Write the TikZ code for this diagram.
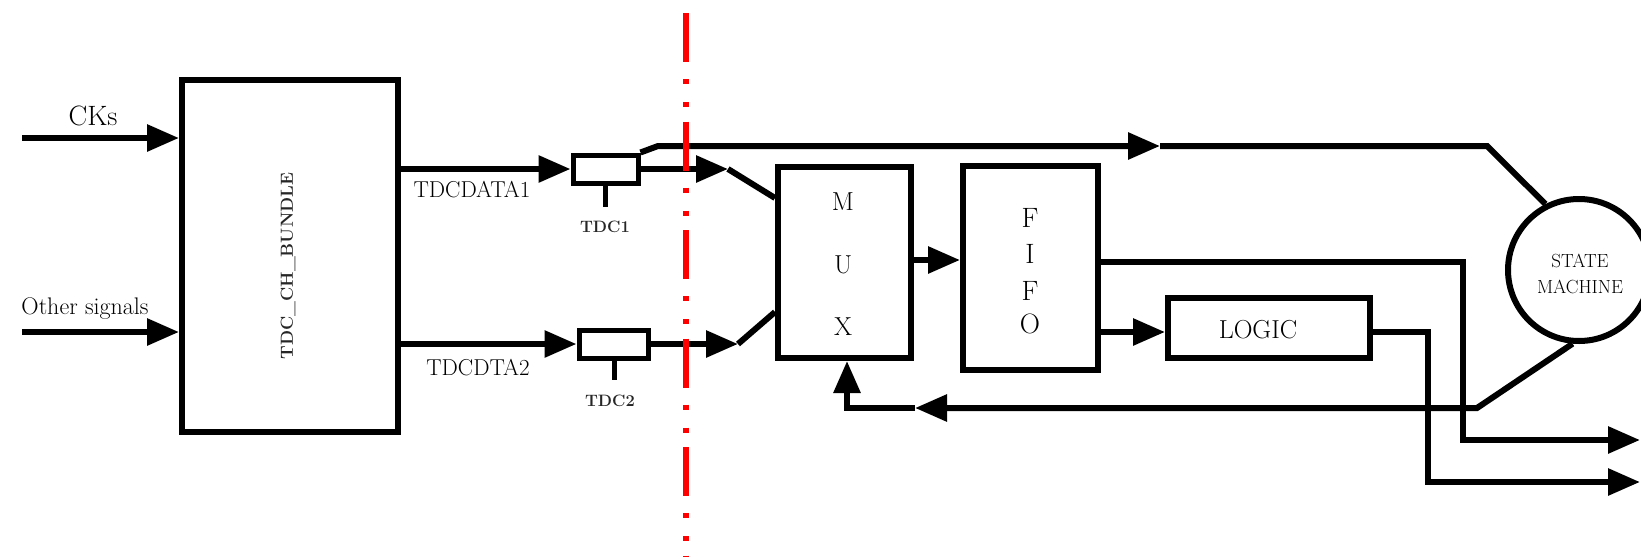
\documentclass[tikz,border=0pt]{standalone}
\usetikzlibrary{arrows.meta}
\begin{document}
\begin{tikzpicture}[x=1pt,y=-1pt,
  blk/.style={draw, line width=6pt, inner sep=0pt, fill=white},
  tdcbox/.style={draw, line width=5pt, inner sep=0pt, fill=white},
  wire/.style={line width=6pt},
  arr/.style={line width=6pt, -{Triangle[length=32pt,width=26pt]}},
  txt/.style={inner sep=0pt, anchor=base},
  redline/.style={draw=red, line width=6pt, dash pattern=on 49pt off 17pt on 5pt off 18pt on 5pt off 14.5pt}
]
\useasboundingbox (0,0) rectangle (1641,557);
\fill[white] (0,0) rectangle (1641,557);

% blocks
\node[blk, minimum width=216pt, minimum height=352pt] (bundle) at (290,256) {};
\node[inner sep=0pt, rotate=90, text=black!85, font=\bfseries\fontsize{17.5}{20}\selectfont] (bundlelbl) at (288,266) {TDC\_CH\_BUNDLE};
\node[tdcbox, minimum width=65pt, minimum height=28pt] (tdc1) at (605.5,169) {};
\node[tdcbox, minimum width=69pt, minimum height=28pt] (tdc2) at (613.5,344) {};
\node[blk, minimum width=133pt, minimum height=191pt] (mux) at (844.5,262.5) {};
\node[blk, minimum width=135pt, minimum height=204pt] (fifo) at (1030.5,268) {};
\node[blk, minimum width=202pt, minimum height=60pt] (logic) at (1269,328) {};
\node[draw, circle, line width=6pt, minimum size=142pt, inner sep=0pt] (sm) at (1579,270) {};

% texts
\node[txt, font=\fontsize{28}{30}\selectfont] (tck) at (93,125) {CKs};
\node[txt, font=\fontsize{24}{26}\selectfont] (tos) at (85,314) {Other signals};
\node[txt, font=\fontsize{23}{25}\selectfont] (td1) at (472,197) {TDCDATA1};
\node[txt, font=\fontsize{23}{25}\selectfont] (td2) at (478,375) {TDCDTA2};
\node[txt, text=black!85, font=\bfseries\fontsize{16.5}{19}\selectfont] (tt1) at (605,232) {TDC1};
\node[txt, text=black!85, font=\bfseries\fontsize{16.5}{19}\selectfont] (tt2) at (610,406) {TDC2};
\node[txt, font=\fontsize{26}{28}\selectfont] (mM) at (843,210) {M};
\node[txt, font=\fontsize{26}{28}\selectfont] (mU) at (843,273) {U};
\node[txt, font=\fontsize{26}{28}\selectfont] (mX) at (843,335) {X};
\node[txt, font=\fontsize{28}{30}\selectfont] (fF1) at (1030,227) {F};
\node[txt, font=\fontsize{28}{30}\selectfont] (fI) at (1030,263) {I};
\node[txt, font=\fontsize{28}{30}\selectfont] (fF2) at (1030,300) {F};
\node[txt, font=\fontsize{28}{30}\selectfont] (fO) at (1030,333) {O};
\node[txt, font=\fontsize{26}{28}\selectfont] (tlog) at (1258,338) {LOGIC};
\node[txt, font=\fontsize{19}{21}\selectfont] (tst) at (1580,267) {STATE};
\node[txt, font=\fontsize{19}{21}\selectfont] (tmc) at (1580,293) {MACHINE};

% stubs under TDC boxes
\coordinate (s1) at (605,207);
\coordinate (s2) at (614,380);
\draw[line width=5pt] (tdc1.south -| s1) -- (s1);
\draw[line width=5pt] (tdc2.south -| s2) -- (s2);

% inputs
\coordinate (ck) at (22,138);
\coordinate (os) at (22,332);
\draw[arr] (ck) -- (ck -| bundle.west);
\draw[arr] (os) -- (os -| bundle.west);

% TDC data lines
\draw[arr] (bundle.east |- tdc1) -- (tdc1.west);
\draw[arr] (bundle.east |- tdc2) -- (tdc2.west);
\coordinate (m1) at (728,169);
\coordinate (mi1) at (0,198);
\draw[arr] (tdc1.east) -- (m1);
\draw[wire] (m1) -- (mux.west |- mi1);
\coordinate (m2) at (738,344);
\coordinate (mi2) at (0,312);
\draw[arr] (tdc2.east) -- (m2);
\draw[wire] (m2) -- (mux.west |- mi2);

% top line to state machine
\coordinate (t1) at (658,146);
\coordinate (t2) at (1160,146);
\coordinate (t3) at (1487,146);
\draw[arr] (tdc1.north east) -- (t1) -- (t2);
\draw[wire] (t2) -- (t3) -- (sm.117);

% mux -> fifo
\coordinate (ymf) at (0,260);
\draw[arr] (mux.east |- ymf) -- (fifo.west |- ymf);

% fifo outputs
\coordinate (f1) at (1463,262);
\coordinate (o1) at (1640,440);
\draw[arr] (fifo.east |- f1) -- (f1) -- (f1 |- o1) -- (o1);
\coordinate (yL) at (0,332);
\draw[arr] (fifo.east |- yL) -- (logic.west |- yL);

% logic output
\coordinate (l1) at (1428,332);
\coordinate (o2) at (1640,482);
\draw[arr] (logic.east |- yL) -- (l1) -- (l1 |- o2) -- (o2);

% feedback
\coordinate (fb1) at (1477,408);
\coordinate (fb2) at (915,408);
\coordinate (fb3) at (847,408);
\draw[arr] (sm.265) -- (fb1) -- (fb2);
\draw[arr] (fb2) -- (fb3) -- (fb3 |- mux.south);

% red dash-dot line
\coordinate (r1) at (686,13);
\coordinate (r2) at (686,557);
\draw[redline] (r1) -- (r2);
\end{tikzpicture}
\end{document}
